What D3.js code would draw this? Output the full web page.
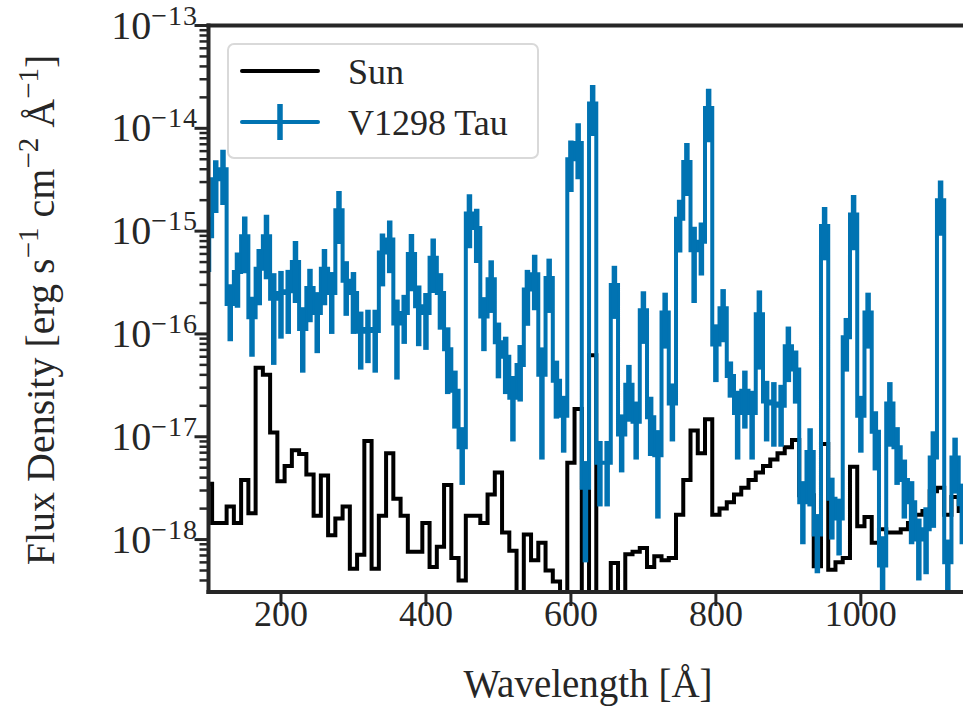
<!DOCTYPE html>
<html>
<head>
<meta charset="utf-8">
<script src="https://cdn.jsdelivr.net/npm/d3@7"></script>
<style>
  body { margin: 0; background: #fff; }
  svg text { font-family: "Liberation Serif", "DejaVu Serif", serif; fill: #262626; }
</style>
</head>
<body>
<div id="chart"></div>
<script>
// wavelength bin centres [Angstrom]
const wavelength = [100,110,120,130,140,150,160,170,180,190,200,210,220,230,240,250,260,270,280,290,
  300,310,320,330,340,350,360,370,380,390,400,410,420,430,440,450,460,470,480,490,
  500,510,520,530,540,550,560,570,580,590,600,610,620,630,640,650,660,670,680,690,
  700,710,720,730,740,750,760,770,780,790,800,810,820,830,840,850,860,870,880,890,
  900,910,920,930,940,950,960,970,980,990,1000,1010,1020,1030,1040,1050,1060,1070,1080,1090,
  1100,1110,1120,1130,1140];

// Sun flux density
const sunFlux = [3.5e-18,1.45e-18,1.45e-18,2.1e-18,1.45e-18,3.8e-18,1.8e-18,4.7e-17,4.0e-17,1.1e-17,
  3.7e-18,5.2e-18,7.4e-18,6.8e-18,4.3e-18,1.7e-18,4.2e-18,1.1e-18,1.6e-18,2.1e-18,
  5.2e-19,7.1e-19,9.1e-18,5.2e-19,1.7e-18,6.9e-18,2.5e-18,1.7e-18,7.6e-19,7.6e-19,
  1.45e-18,5.4e-19,8.5e-19,3.4e-18,6.6e-19,4.0e-19,1.7e-18,1.7e-18,1.45e-18,2.75e-18,
  4.5e-18,1.17e-18,7.8e-19,1e-19,1.12e-18,6.3e-19,9.3e-19,5.0e-19,3.9e-19,1e-19,
  5.6e-18,1.86e-17,1e-19,6.2e-17,1e-19,1e-19,5.9e-19,1e-19,7.2e-19,7.6e-19,
  8.3e-19,5.4e-19,6.9e-19,6.3e-19,6.6e-19,1.74e-18,3.8e-18,1.15e-17,6.9e-18,1.48e-17,
  1.74e-18,2.0e-18,2.3e-18,2.75e-18,3.2e-18,3.8e-18,4.5e-18,5.2e-18,6.0e-18,6.9e-18,
  7.9e-18,9.3e-18,2.7e-18,2.7e-18,5.5e-19,8.5e-18,5.1e-19,6.0e-19,6.6e-19,5.1e-18,
  1.35e-18,1.66e-18,9.3e-19,1.26e-18,1.17e-18,1.17e-18,1.26e-18,1.45e-18,1.74e-18,1.9e-18,
  2.95e-18,3.2e-18,1.74e-18,2.6e-18,1.9e-18];

// V1298 Tau flux density and its error
const tauFlux = [8.9e-16,3.2e-15,4.0e-15,1.95e-16,4.0e-16,8.9e-16,1.45e-16,4.3e-16,8.9e-16,2.2e-16,
  2.5e-16,2.6e-16,5.0e-16,1.12e-16,2.8e-16,1.6e-16,4.3e-16,2.5e-16,1.6e-15,3.3e-16,
  2.5e-16,1.05e-16,1.12e-16,1.07e-16,6.2e-16,8.3e-16,1.26e-16,1.6e-16,6.0e-16,1.86e-16,
  1.6e-16,5.5e-16,2.5e-16,7.1e-17,2.8e-17,7.9e-18,1.48e-15,1.07e-15,1.48e-16,3.4e-16,
  8.3e-17,6.0e-17,2.4e-17,5.0e-17,2.7e-16,3.8e-16,4.0e-17,3.5e-16,3.5e-17,1.6e-17,
  5.0e-15,7.2e-15,3.2e-18,1.74e-14,5.6e-18,5.6e-18,3.0e-16,1.05e-17,3.2e-17,1.4e-17,
  1.7e-16,1.55e-17,6.6e-18,1.62e-16,2.1e-17,1.32e-15,4.7e-15,6.5e-16,7.9e-16,1.58e-14,
  7.9e-17,1.78e-16,3.9e-17,1.7e-17,2.8e-17,1.7e-17,1.55e-16,2.2e-17,2.1e-17,2.0e-17,
  7.6e-17,4.5e-17,2.3e-18,7.1e-18,1.12e-18,1.12e-15,2.5e-18,1.6e-18,9.3e-17,1.45e-15,
  1.6e-17,1.62e-16,1.12e-17,5.6e-19,2.1e-17,7.9e-18,3.8e-18,2.3e-18,1.0e-18,1.26e-18,
  6.3e-18,2.0e-15,6.0e-19,6.3e-18,2.2e-18];

const tauErr = [4.9e-16,1.7e-15,2.2e-15,1.1e-16,2.2e-16,5.0e-16,8.5e-17,2.4e-16,5.5e-16,1.7e-16,
  1.6e-16,1.6e-16,3.0e-16,7.0e-17,1.5e-16,9.5e-17,2.4e-16,1.5e-16,8.5e-16,1.8e-16,
  1.5e-16,6.0e-17,6.0e-17,6.5e-17,3.3e-16,4.4e-16,9.0e-17,8.0e-17,3.4e-16,1.1e-16,
  9.0e-17,3.0e-16,1.4e-16,4.5e-17,1.6e-17,4.5e-18,8.0e-16,5.8e-16,8.0e-17,1.8e-16,
  4.6e-17,3.4e-17,1.5e-17,2.8e-17,1.5e-16,2.1e-16,3.4e-17,1.9e-16,2.0e-17,9.0e-18,
  2.6e-15,4.0e-15,2.6e-18,9.0e-15,3.5e-18,3.5e-18,1.6e-16,6.0e-18,1.8e-17,8.0e-18,
  9.0e-17,9.0e-18,5.0e-18,9.0e-17,1.2e-17,7.0e-16,2.5e-15,4.5e-16,4.2e-16,8.5e-15,
  4.5e-17,9.5e-17,1.5e-17,1.1e-17,1.6e-17,1.1e-17,1.1e-16,1.3e-17,1.3e-17,1.2e-17,
  4.2e-17,2.4e-17,1.4e-18,5.0e-18,6.5e-19,6.0e-16,1.5e-18,9.0e-19,5.0e-17,8.0e-16,
  9.0e-18,9.0e-17,6.5e-18,5.2e-19,1.3e-17,4.5e-18,2.2e-18,1.4e-18,6.0e-19,8.0e-19,
  5.0e-18,1.1e-15,4.0e-19,3.5e-18,1.3e-18];

const xTicks = [200, 400, 600, 800, 1000];
const yExponents = [-18, -17, -16, -15, -14, -13];
const seriesNames = ["Sun", "V1298 Tau"];

const W = 963, H = 710;
const plot = {left: 208.5, right: 964.5, top: 25.5, bottom: 592};
const ink = "#262626";
const blue = "#0173b2";

const svg = d3.select("#chart").append("svg")
  .attr("width", W)
  .attr("height", H);

const x = d3.scaleLinear().domain([100, 1143]).range([plot.left, plot.right]);
const y = d3.scaleLog().domain([3.09e-19, 1e-13]).range([plot.bottom, plot.top]);

svg.append("clipPath").attr("id", "clip")
  .append("rect")
  .attr("x", plot.left).attr("y", plot.top)
  .attr("width", plot.right - plot.left).attr("height", plot.bottom - plot.top);

const data = wavelength.map((w, i) => ({w: w, sun: sunFlux[i], tau: tauFlux[i], err: tauErr[i]}));

const g = svg.append("g").attr("clip-path", "url(#clip)");

const stepLine = (key) => d3.line()
  .x(d => x(d.w))
  .y(d => y(d[key]))
  .curve(d3.curveStep);

// Sun
g.append("path")
  .datum(data)
  .attr("d", stepLine("sun"))
  .attr("fill", "none")
  .attr("stroke", "#000")
  .attr("stroke-width", 4);

// V1298 Tau step + error bars
g.append("path")
  .datum(data)
  .attr("d", stepLine("tau"))
  .attr("fill", "none")
  .attr("stroke", blue)
  .attr("stroke-width", 4);

g.selectAll("line.err")
  .data(data)
  .enter()
  .append("line")
  .attr("class", "err")
  .attr("x1", d => x(d.w))
  .attr("x2", d => x(d.w))
  .attr("y1", d => y(d.tau + d.err))
  .attr("y2", d => (d.tau - d.err) > 0 ? y(d.tau - d.err) : plot.bottom + 10)
  .attr("stroke", blue)
  .attr("stroke-width", 5.5);

// axes
const xAxis = svg.append("g");
xAxis.selectAll("line")
  .data(xTicks)
  .enter()
  .append("line")
  .attr("x1", d => x(d)).attr("x2", d => x(d))
  .attr("y1", plot.bottom).attr("y2", plot.bottom + 14)
  .attr("stroke", ink).attr("stroke-width", 3);
xAxis.selectAll("text")
  .data(xTicks)
  .enter()
  .append("text")
  .attr("x", d => x(d))
  .attr("y", 626)
  .attr("text-anchor", "middle")
  .attr("font-size", 36)
  .text(d => d);

const yAxis = svg.append("g");
const minor = [];
for (let e = -19; e < -13; e++) {
  for (let m = 2; m <= 9; m++) {
    const v = m * Math.pow(10, e);
    if (v >= y.domain()[0] && v <= y.domain()[1]) minor.push(v);
  }
}
yAxis.selectAll("line.minor")
  .data(minor)
  .enter()
  .append("line")
  .attr("class", "minor")
  .attr("x1", plot.left - 9).attr("x2", plot.left)
  .attr("y1", d => y(d)).attr("y2", d => y(d))
  .attr("stroke", ink).attr("stroke-width", 2.5);
yAxis.selectAll("line.major")
  .data(yExponents)
  .enter()
  .append("line")
  .attr("class", "major")
  .attr("x1", plot.left - 14).attr("x2", plot.left)
  .attr("y1", d => y(Math.pow(10, d))).attr("y2", d => y(Math.pow(10, d)))
  .attr("stroke", ink).attr("stroke-width", 3);

const yLab = yAxis.selectAll("text")
  .data(yExponents)
  .enter()
  .append("text")
  .attr("x", 198)
  .attr("y", d => y(Math.pow(10, d)) + 13)
  .attr("text-anchor", "end")
  .attr("font-size", 40);
yLab.append("tspan").text("10");
yLab.append("tspan")
  .attr("dy", -14)
  .attr("font-size", 28)
  .attr("letter-spacing", 1)
  .text(d => "\u2212" + Math.abs(d));

// spines
svg.append("line")
  .attr("x1", plot.left).attr("x2", plot.left)
  .attr("y1", plot.top - 2).attr("y2", plot.bottom + 2)
  .attr("stroke", ink).attr("stroke-width", 4);
svg.append("line")
  .attr("x1", plot.left - 2).attr("x2", plot.right)
  .attr("y1", plot.bottom).attr("y2", plot.bottom)
  .attr("stroke", ink).attr("stroke-width", 4);
svg.append("line")
  .attr("x1", plot.left - 2).attr("x2", plot.right)
  .attr("y1", plot.top).attr("y2", plot.top)
  .attr("stroke", ink).attr("stroke-width", 4);

// axis labels
svg.append("text")
  .attr("x", 588)
  .attr("y", 697)
  .attr("text-anchor", "middle")
  .attr("font-size", 39)
  .text("Wavelength [\u00c5]");

const yTitle = svg.append("text")
  .attr("transform", "translate(54," + 310 + ") rotate(-90)")
  .attr("text-anchor", "middle")
  .attr("font-size", 40);
yTitle.append("tspan").text("Flux Density [erg s");
yTitle.append("tspan").attr("dy", -16).attr("font-size", 29).text("\u22121");
yTitle.append("tspan").attr("dy", 16).text(" cm");
yTitle.append("tspan").attr("dy", -16).attr("font-size", 29).text("\u22122");
yTitle.append("tspan").attr("dy", 16).text(" \u00c5");
yTitle.append("tspan").attr("dy", -16).attr("font-size", 29).text("\u22121");
yTitle.append("tspan").attr("dy", 16).text("]");

// legend
const leg = svg.append("g");
leg.append("rect")
  .attr("x", 228).attr("y", 44)
  .attr("width", 310).attr("height", 114)
  .attr("rx", 6)
  .attr("fill", "#fff").attr("fill-opacity", 0.85)
  .attr("stroke", "#d9d9d9").attr("stroke-width", 2);
leg.append("line")
  .attr("x1", 242).attr("x2", 318).attr("y1", 71).attr("y2", 71)
  .attr("stroke", "#000").attr("stroke-width", 4).attr("stroke-linecap", "round");
leg.append("line")
  .attr("x1", 242).attr("x2", 318).attr("y1", 122).attr("y2", 122)
  .attr("stroke", blue).attr("stroke-width", 4).attr("stroke-linecap", "round");
leg.append("line")
  .attr("x1", 280).attr("x2", 280).attr("y1", 104).attr("y2", 140)
  .attr("stroke", blue).attr("stroke-width", 5.5);
leg.selectAll("text")
  .data(seriesNames)
  .enter()
  .append("text")
  .attr("x", 348)
  .attr("y", (d, i) => 84 + i * 51)
  .attr("font-size", 36)
  .text(d => d);
</script>
</body>
</html>
